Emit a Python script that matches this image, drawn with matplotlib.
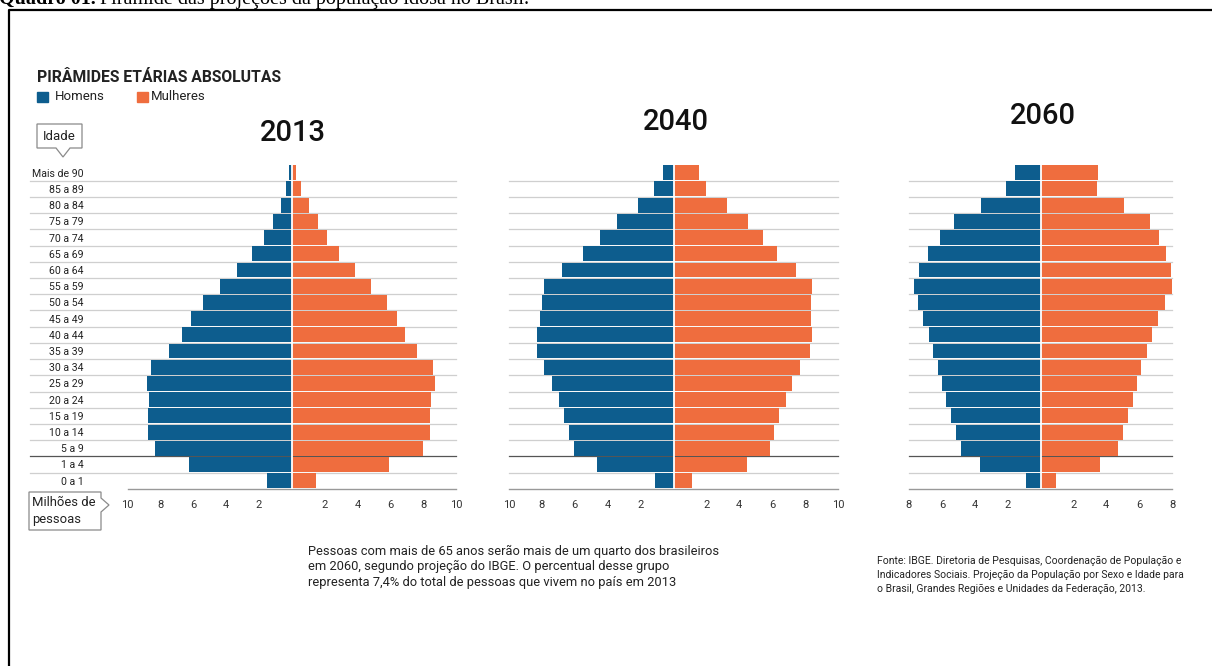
import matplotlib
matplotlib.use("Agg")
import matplotlib.pyplot as plt
from matplotlib.patches import Rectangle, Polygon
from matplotlib.lines import Line2D

W, H = 1212, 666

# faixas etarias (de baixo para cima)
idades = ['0 a 1', '1 a 4', '5 a 9', '10 a 14', '15 a 19', '20 a 24', '25 a 29',
          '30 a 34', '35 a 39', '40 a 44', '45 a 49', '50 a 54', '55 a 59',
          '60 a 64', '65 a 69', '70 a 74', '75 a 79', '80 a 84', '85 a 89', 'Mais de 90']

# milhoes de pessoas
homens_2013 = [1.54, 6.26, 8.31, 8.76, 8.74, 8.68, 8.82, 8.60, 7.50, 6.67,
               6.14, 5.39, 4.39, 3.37, 2.44, 1.69, 1.16, 0.69, 0.35, 0.17]
mulheres_2013 = [1.46, 5.93, 7.97, 8.41, 8.41, 8.48, 8.74, 8.62, 7.62, 6.87,
                 6.42, 5.77, 4.80, 3.84, 2.89, 2.15, 1.59, 1.04, 0.57, 0.25]
homens_2040 = [1.12, 4.63, 6.06, 6.34, 6.67, 6.99, 7.38, 7.87, 8.29, 8.31,
               8.13, 7.99, 7.89, 6.75, 5.49, 4.47, 3.41, 2.17, 1.16, 0.65]
mulheres_2040 = [1.12, 4.47, 5.85, 6.12, 6.44, 6.81, 7.22, 7.72, 8.27, 8.39,
                 8.37, 8.33, 8.43, 7.42, 6.30, 5.45, 4.51, 3.23, 1.97, 1.52]
homens_2060 = [0.88, 3.68, 4.83, 5.13, 5.44, 5.74, 6.00, 6.26, 6.51, 6.80,
               7.12, 7.45, 7.70, 7.42, 6.86, 6.14, 5.27, 3.59, 2.09, 1.54]
mulheres_2060 = [0.93, 3.61, 4.72, 4.99, 5.30, 5.61, 5.87, 6.14, 6.47, 6.80,
                 7.16, 7.58, 7.98, 7.92, 7.61, 7.20, 6.67, 5.09, 3.41, 3.51]

anos = ['2013', '2040', '2060']
limites = [10, 10, 8]

AZUL = '#0d5d8e'
LARANJA = '#ef6d3e'
FONTE = 'Roboto'

plt.rcParams['font.family'] = [FONTE, 'DejaVu Sans']

fig = plt.figure(figsize=(W / 100, H / 100), dpi=100)


def fx(x):
    return x / W


def fy(y):
    return 1 - y / H


# eixos em pixels: (esquerda, direita) ; topo e base iguais para todos
y_top, y_bot = 164.6, 488.8
caixas = [(127.7, 456.0), (509.0, 838.0), (909.0, 1172.0)]


def piramide(ax, homens, mulheres, lim, rotulos=False, grade_esq=0.0):
    y = list(range(len(idades)))
    ax.barh(y, [-v for v in homens], height=0.92, color=AZUL, zorder=2)
    ax.barh(y, mulheres, height=0.92, color=LARANJA, zorder=2)
    ax.axvline(0, color='white', lw=1.3, zorder=3)
    for i in range(len(idades) - 1):
        cor = '#555555' if i == 1 else '#cfcfcf'
        ax.axhline(i + 0.5, xmin=grade_esq, xmax=1, color=cor, lw=0.9,
                   zorder=1, clip_on=False)
    ax.set_xlim(-lim, lim)
    ax.set_ylim(-0.5, len(idades) - 0.5)
    ticks = [t for t in range(-lim, lim + 1, 2) if t != 0]
    ax.set_xticks(ticks)
    ax.set_xticklabels([str(abs(t)) for t in ticks], fontsize=8, color='#333333')
    ax.set_xticks([-lim, lim], minor=True)
    ax.tick_params(axis='x', which='major', length=0, pad=8)
    ax.tick_params(axis='x', which='minor', direction='in', length=5,
                   color='#999999', width=1)
    for s in ['top', 'right', 'left']:
        ax.spines[s].set_visible(False)
    ax.spines['bottom'].set_color('#999999')
    ax.spines['bottom'].set_linewidth(1)
    if rotulos:
        ax.set_yticks(y)
        ax.set_yticklabels(idades, fontsize=7.6, color='#222222')
        ax.tick_params(axis='y', length=0, pad=32)
    else:
        ax.set_yticks([])
    ax.patch.set_alpha(0)


dados = [(homens_2013, mulheres_2013), (homens_2040, mulheres_2040),
         (homens_2060, mulheres_2060)]
for k, ((xl, xr), (h, m)) in enumerate(zip(caixas, dados)):
    ax = fig.add_axes([fx(xl), fy(y_bot), (xr - xl) / W, (y_bot - y_top) / H])
    if k == 0:
        piramide(ax, h, m, limites[k], rotulos=True,
                 grade_esq=(30 - xl) / (xr - xl))
    else:
        piramide(ax, h, m, limites[k])

# titulos dos anos
pos_anos = [(293, 133), (676, 122), (1043, 116)]
for ano, (x, y) in zip(anos, pos_anos):
    fig.text(fx(x), fy(y), ano, fontsize=21, fontweight='medium',
             ha='center', va='center', color='#111111')

# cabecalho
fig.text(fx(37), fy(77), 'PIRÂMIDES ETÁRIAS ABSOLUTAS', fontsize=11.3,
         fontweight='bold', ha='left', va='center', color='#222222')
fig.patches.append(Rectangle((fx(37), fy(102)), 11 / W, 10 / H, color=AZUL,
                             transform=fig.transFigure, figure=fig))
fig.text(fx(55), fy(97), 'Homens', fontsize=9.5, ha='left', va='center',
         color='#222222')
fig.patches.append(Rectangle((fx(137), fy(102)), 11 / W, 10 / H, color=LARANJA,
                             transform=fig.transFigure, figure=fig))
fig.text(fx(151), fy(97), 'Mulheres', fontsize=9.5, ha='left', va='center',
         color='#222222')

# caixa "Idade" com seta para baixo
pts = [(37, 124), (82, 124), (82, 148), (70, 148), (63, 157), (56, 148), (37, 148)]
fig.patches.append(Polygon([(fx(a), fy(b)) for a, b in pts], closed=True,
                           facecolor='white', edgecolor='#8a8a8a', lw=0.9,
                           transform=fig.transFigure, figure=fig))
fig.text(fx(59.5), fy(136), 'Idade', fontsize=9.5, ha='center', va='center',
         color='#222222')

# caixa "Milhoes de pessoas" com seta para a direita
pts = [(29, 492), (101, 492), (101, 498), (109, 505), (101, 512), (101, 530), (29, 530)]
fig.patches.append(Polygon([(fx(a), fy(b)) for a, b in pts], closed=True,
                           facecolor='white', edgecolor='#8a8a8a', lw=0.9,
                           transform=fig.transFigure, figure=fig))
fig.text(fx(32), fy(511), 'Milhões de\npessoas', fontsize=9.4, ha='left',
         va='center', linespacing=1.3, color='#222222')

# textos de rodape
fig.text(fx(308), fy(545),
         'Pessoas com mais de 65 anos serão mais de um quarto dos brasileiros\n'
         'em 2060, segundo projeção do IBGE. O percentual desse grupo\n'
         'representa 7,4% do total de pessoas que vivem no país em 2013',
         fontsize=9.25, ha='left', va='top', linespacing=1.22, color='#222222')
fig.text(fx(877), fy(556),
         'Fonte: IBGE. Diretoria de Pesquisas, Coordenação de População e\n'
         'Indicadores Sociais. Projeção da População por Sexo e Idade para\n'
         'o Brasil, Grandes Regiões e Unidades da Federação, 2013.',
         fontsize=7.5, ha='left', va='top', linespacing=1.45, color='#222222')

# moldura do quadro
fig.lines.append(Line2D([fx(8.7), fx(8.7), fx(W)], [fy(H), fy(10.3), fy(10.3)],
                        color='black', lw=1.6, transform=fig.transFigure,
                        figure=fig))

# legenda do quadro (cortada no topo, como na imagem original)
t1 = fig.text(fx(-1), fy(4), 'Quadro 01.', fontsize=14.5, fontweight='bold',
              family='Liberation Serif', ha='left', va='baseline')
fig.canvas.draw()
bb = t1.get_window_extent()
fig.text(bb.x1 / W + fx(4), fy(4),
         'Pirâmide das projeções da população idosa no Brasil.', fontsize=14.5,
         family='Liberation Serif', ha='left', va='baseline')

fig.savefig('out.png', dpi=100, facecolor='white')
